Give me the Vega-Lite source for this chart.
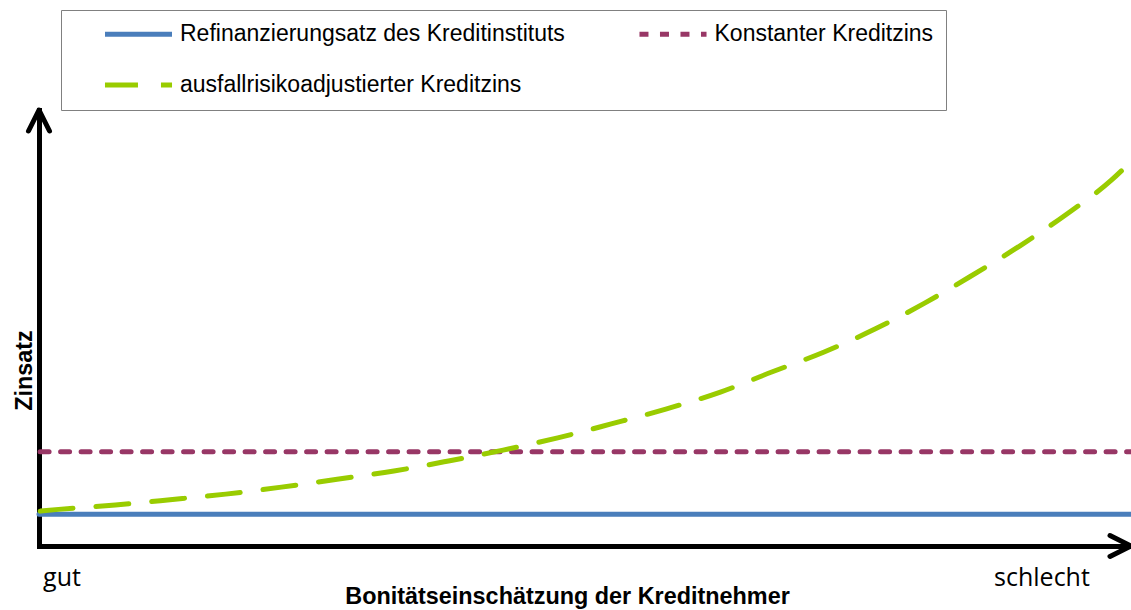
{
  "$schema": "https://vega.github.io/schema/vega-lite/v6.json",
  "autosize": "none",
  "width": 1092,
  "height": 436,
  "padding": {"left": 39, "top": 110, "right": 0, "bottom": 64},
  "background": "white",
  "config": {"view": {"stroke": null}},
  "datasets": {
    "lines": [
      {"s": "Refinanzierungsatz des Kreditinstituts", "x": 0, "y": 7.3},
      {"s": "Refinanzierungsatz des Kreditinstituts", "x": 100, "y": 7.3},
      {"s": "Konstanter Kreditzins", "x": 0.1, "y": 21.6},
      {"s": "Konstanter Kreditzins", "x": 100, "y": 21.6},
      {"s": "ausfallrisikoadjustierter Kreditzins", "x": 0.1, "y": 8.0},
      {"s": "ausfallrisikoadjustierter Kreditzins", "x": 1.8, "y": 8.4},
      {"s": "ausfallrisikoadjustierter Kreditzins", "x": 7.0, "y": 9.4},
      {"s": "ausfallrisikoadjustierter Kreditzins", "x": 12.0, "y": 10.6},
      {"s": "ausfallrisikoadjustierter Kreditzins", "x": 17.1, "y": 11.9},
      {"s": "ausfallrisikoadjustierter Kreditzins", "x": 22.2, "y": 13.5},
      {"s": "ausfallrisikoadjustierter Kreditzins", "x": 27.3, "y": 15.3},
      {"s": "ausfallrisikoadjustierter Kreditzins", "x": 32.5, "y": 17.2},
      {"s": "ausfallrisikoadjustierter Kreditzins", "x": 37.5, "y": 19.5},
      {"s": "ausfallrisikoadjustierter Kreditzins", "x": 42.5, "y": 22.0},
      {"s": "ausfallrisikoadjustierter Kreditzins", "x": 47.5, "y": 24.8},
      {"s": "ausfallrisikoadjustierter Kreditzins", "x": 52.4, "y": 28.0},
      {"s": "ausfallrisikoadjustierter Kreditzins", "x": 57.4, "y": 31.4},
      {"s": "ausfallrisikoadjustierter Kreditzins", "x": 62.4, "y": 35.3},
      {"s": "ausfallrisikoadjustierter Kreditzins", "x": 67.1, "y": 39.9},
      {"s": "ausfallrisikoadjustierter Kreditzins", "x": 71.9, "y": 44.5},
      {"s": "ausfallrisikoadjustierter Kreditzins", "x": 76.6, "y": 49.8},
      {"s": "ausfallrisikoadjustierter Kreditzins", "x": 81.1, "y": 55.7},
      {"s": "ausfallrisikoadjustierter Kreditzins", "x": 85.2, "y": 61.7},
      {"s": "ausfallrisikoadjustierter Kreditzins", "x": 89.8, "y": 68.8},
      {"s": "ausfallrisikoadjustierter Kreditzins", "x": 94.1, "y": 76.1},
      {"s": "ausfallrisikoadjustierter Kreditzins", "x": 98.2, "y": 83.9},
      {"s": "ausfallrisikoadjustierter Kreditzins", "x": 99.6, "y": 87.2}
    ],
    "arrowRight": [{"x": 100, "y": 0}],
    "arrowUp": [{"x": 0, "y": 100}]
  },
  "layer": [
    {
      "data": {"name": "lines"},
      "mark": {"type": "line", "strokeWidth": 5, "strokeCap": "round", "interpolate": "monotone", "clip": false},
      "encoding": {
        "x": {
          "field": "x", "type": "quantitative",
          "scale": {"domain": [0, 100], "nice": false, "zero": false},
          "axis": {
            "values": [2.06, 91.8],
            "labelExpr": "datum.value < 50 ? 'gut' : 'schlecht'",
            "ticks": false, "grid": false,
            "domainColor": "black", "domainWidth": 5, "domainCap": "square",
            "labelFont": "Open Sans", "labelFontSize": 25, "labelColor": "black",
            "labelBaseline": "alphabetic", "labelPadding": 39, "labelAlign": "center",
            "labelFlush": false, "labelOverlap": false,
            "title": "Bonitätseinschätzung der Kreditnehmer",
            "titleFont": "Liberation Sans", "titleFontSize": 23.4, "titleFontWeight": "bold", "titleColor": "black",
            "titleX": 528, "titleY": 57, "titleBaseline": "alphabetic", "titleAlign": "center"
          }
        },
        "y": {
          "field": "y", "type": "quantitative",
          "scale": {"domain": [0, 100], "nice": false, "zero": false},
          "axis": {
            "ticks": false, "labels": false, "grid": false,
            "domainColor": "black", "domainWidth": 5, "domainCap": "square",
            "title": "Zinsatz",
            "titleFont": "Liberation Sans", "titleFontSize": 23.4, "titleFontWeight": "bold", "titleColor": "black",
            "titleAngle": 270, "titleX": -8, "titleY": 260, "titleBaseline": "alphabetic", "titleAlign": "center"
          }
        },
        "color": {
          "field": "s", "type": "nominal",
          "scale": {
            "domain": ["Refinanzierungsatz des Kreditinstituts", "Konstanter Kreditzins", "ausfallrisikoadjustierter Kreditzins"],
            "range": ["#4A7EBB", "#983766", "#99CC00"]
          },
          "legend": {
            "title": null, "orient": "none", "legendX": 22, "legendY": -100,
            "direction": "horizontal", "columns": 2,
            "symbolType": "M-4.19,0L4.19,0", "symbolSize": 256, "symbolStrokeWidth": 5,
            "symbolOffset": 53.5, "labelOffset": 30,
            "labelFont": "Liberation Sans", "labelFontSize": 23, "labelColor": "black", "labelLimit": 800,
            "padding": 12.5, "rowPadding": 27, "columnPadding": 42.5,
            "strokeColor": "#808080", "fillColor": "white"
          }
        },
        "strokeDash": {
          "field": "s", "type": "nominal",
          "scale": {
            "domain": ["Refinanzierungsatz des Kreditinstituts", "Konstanter Kreditzins", "ausfallrisikoadjustierter Kreditzins"],
            "range": [[1, 0], [9, 11.5], [33, 23]]
          },
          "legend": {
            "title": null, "orient": "none", "legendX": 22, "legendY": -100,
            "direction": "horizontal", "columns": 2,
            "symbolType": "M-4.19,0L4.19,0", "symbolSize": 256, "symbolStrokeWidth": 5,
            "symbolOffset": 53.5, "labelOffset": 30,
            "labelFont": "Liberation Sans", "labelFontSize": 23, "labelColor": "black", "labelLimit": 800,
            "padding": 12.5, "rowPadding": 27, "columnPadding": 42.5,
            "strokeColor": "#808080", "fillColor": "white"
          }
        }
      }
    },
    {
      "data": {"name": "arrowRight"},
      "mark": {"type": "point", "shape": "M-2,-1L0,0L-2,1", "size": 441, "filled": false, "stroke": "black", "strokeWidth": 5, "strokeCap": "round", "strokeJoin": "round", "opacity": 1, "clip": false},
      "encoding": {
        "x": {"field": "x", "type": "quantitative"},
        "y": {"field": "y", "type": "quantitative"}
      }
    },
    {
      "data": {"name": "arrowUp"},
      "mark": {"type": "point", "shape": "M-1,2L0,0L1,2", "size": 441, "filled": false, "stroke": "black", "strokeWidth": 5, "strokeCap": "round", "strokeJoin": "round", "opacity": 1, "clip": false},
      "encoding": {
        "x": {"field": "x", "type": "quantitative"},
        "y": {"field": "y", "type": "quantitative"}
      }
    }
  ]
}
